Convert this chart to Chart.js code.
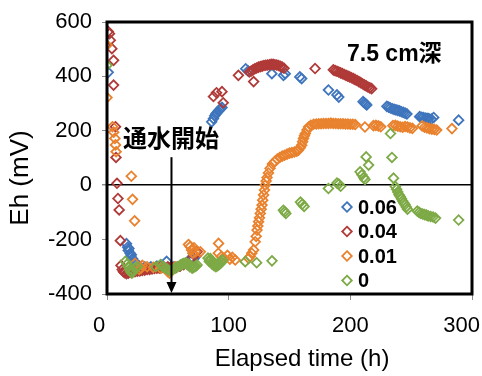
<!DOCTYPE html>
<html>
<head>
<meta charset="utf-8">
<script src="https://cdn.jsdelivr.net/npm/chart.js@4/dist/chart.umd.min.js"></script>
<style>
  html, body { margin: 0; padding: 0; background: #fff; }
  #wrap { width: 482px; height: 376px; }
</style>
</head>
<body>
<div id="wrap"><canvas id="c" width="482" height="376"></canvas></div>
<script>
// series labels (legend order)
const seriesLabels = ["0.06", "0.04", "0.01", "0"];

// 0.06
const t06 = [1, 16, 17, 17.5, 18, 19, 19.5, 20, 21, 22, 26, 31, 36, 41, 45, 49, 55, 60, 66, 69, 71, 73,
  86, 87.5, 88.5, 89.5, 90.5, 91.5, 92.5, 93.5, 94.5, 114, 116, 135.5, 145, 146.5, 158.5, 160,
  182, 189, 190.5, 210.5, 211.5, 212.5, 213.5, 230, 231.5, 233, 234.5, 236, 237.5, 239, 240.5,
  242, 243.5, 245, 246.5, 257, 258.5, 260, 261.5, 263, 264.5, 266.5, 268.5, 289];
const eh06 = [415, -215, -228, -240, -233, -250, -262, -256, -270, -280, -295, -300, -300, -297, -294, -280, -300, -297, -285, -268, -272, -262,
  233, 245, 255, 262, 267, 272, 277, 282, 286, 428, 420, 410, 404, 410, 398, 392,
  350, 332, 324, 307, 303, 299, 295, 290, 287, 284, 281, 279, 277, 275, 273,
  270, 268, 265, 262, 252, 250, 249, 247, 246, 245, 243, 249, 239];

// 0.04
const t04 = [1, 2, 2.7, 4, 5.4, 5.4, 7, 7.4, 8.2, 9, 10, 11,
  11.5, 12.5, 13.5, 14.5, 16, 17.5, 19, 21, 23, 25, 27, 29, 31, 33, 35, 37, 39, 41, 43, 45, 47, 50, 53,
  57, 60, 63, 66, 70, 72, 74, 87.5, 90, 94.5, 95.5, 108, 120.5,
  117, 118.5, 120, 121.5, 123, 124.5, 126, 127.5, 129, 130.5, 132, 133.5, 135, 136.5, 138, 139.5, 141, 142.5, 144, 145.5,
  171, 186, 187.5, 189, 190.5, 192, 193.5, 195, 196.5, 198, 199.5, 201, 202.5, 204, 205.5, 207, 208.5, 210, 211.5, 213, 214.5, 216, 217.5];
const eh04 = [565, 557, 533, 502, 459, 368, 215, 102, 7, -49, -91, -204,
  -295, -310, -318, -322, -325, -323, -320, -318, -318, -316, -315, -313, -312, -310, -310, -308, -306, -305, -305, -303, -302, -300, -300,
  -302, -298, -292, -285, -268, -258, -245, 326, 340, 344, 303, 404, 381,
  416, 420, 424, 428, 431, 434, 436, 438, 440, 441, 442, 443, 444, 444, 443, 442, 440, 437, 434, 430,
  429, 424, 421, 419, 416, 413, 410, 407, 404, 401, 398, 395, 392, 388, 385, 381, 377, 373, 369, 365, 361, 358, 355];

// 0.01
const t01 = [0, 0, 4.5, 5.5, 6.5, 7, 7.5, 20, 21, 22.7, 23, 25, 26.5, 28, 29, 33, 38, 44, 50, 51.5, 53, 56,
  67, 68.4, 69.5, 70.5, 71.5, 72.7, 76.7, 91.7, 91.5, 94, 96.5, 99, 101, 103, 105.4,
  116.4, 117.7, 119, 120.5, 121.8, 122.6, 123.3, 124, 124.6, 125.3, 126, 126.7, 127.4, 128, 128.7, 129.4, 130, 130.8, 131.5,
  132.7, 134, 136, 138, 140, 142, 144, 146, 148, 150, 152, 154, 156, 157.4, 158.8, 160, 160.8, 161.5, 162.3, 163, 164.4, 165.7,
  167.5, 169.8, 172, 174, 176, 178, 180, 182, 184, 186, 188, 190, 192, 194, 196, 198, 200, 202, 204,
  212, 219, 221, 223, 225, 235, 237, 239, 241, 243, 245, 247, 249, 251, 259, 261, 263, 265, 267, 269, 271, 283.5];
const eh01 = [515, 322, 215, 195, 172, 148, 123, 33, -52, -131, -287, -300, -310, -305, -295, -300, -302, -305, -318, -323, -312, -300,
  -218, -226, -238, -250, -230, -245, -245, -214, -250, -262, -270, -258, -272, -265, -275,
  -269, -262, -250, -238, -208, -188, -165, -150, -134, -120, -104, -88, -73, -55, -36, -18, 0, 15, 28,
  45, 62, 78, 88, 96, 102, 107, 110, 114, 118, 120, 122, 125, 129, 138, 147, 160, 172, 182, 190, 203, 214,
  220, 224, 225, 226, 226, 227, 227, 227, 228, 227, 227, 226, 226, 226, 225, 225, 224, 224, 223,
  214, 219, 220, 218, 215, 219, 220, 217, 215, 213, 216, 214, 211, 209, 218, 213, 211, 208, 206, 205, 203, 208];

// 0
const t00 = [0, 15, 16.5, 17.5, 18.5, 19.5, 20.5, 21.5, 23, 25,
  40, 44, 46, 48, 50, 52, 54, 56, 58, 60, 61, 62, 63, 64, 65, 66, 67, 68, 69, 70, 71, 72, 73, 74,
  83, 84, 84.5, 85, 86, 86.5, 87.5, 88, 89, 89.5, 90.5, 91, 92, 92.5, 93.5, 94, 95,
  113.6, 123, 135.6, 145, 146, 147, 159, 160.5, 162,
  182, 189, 190.5, 192, 208, 209.5, 211, 212, 213, 215, 233, 234.2, 235.5,
  237, 238, 239, 240, 241, 242, 243, 244, 245, 246, 247,
  255, 256.5, 258, 259.5, 261, 262.5, 264, 266, 268, 270, 289];
const eh00 = [441, -280, -290, -300, -310, -318, -323, -315, -305, -300,
  -300, -292, -300, -305, -310, -315, -310, -305, -300, -295, -292, -290, -288, -287, -285, -292, -290, -300, -296, -305, -302, -300, -298, -293,
  -268, -280, -275, -270, -282, -290, -288, -296, -293, -300, -290, -296, -286, -290, -280, -284, -275,
  -281, -285, -278, -92, -98, -104, -62, -70, -78,
  -12, 8, 4, -4, 49, 38, 28, 21, 104, 74, 190, 102, 26,
  -5, -15, -25, -35, -42, -50, -58, -65, -72, -80, -88,
  -95, -100, -104, -106, -108, -110, -113, -115, -117, -121, -128];

const xTicks = [0, 100, 200, 300];
const yTicks = [-400, -200, 0, 200, 400, 600];

const colors = ["#3F75BC", "#B03A38", "#E9822E", "#7DAA46"];
const FONT = "'Liberation Sans', Arial, sans-serif";
const JP = "'Noto Sans CJK JP', 'Liberation Sans', sans-serif";
const MARK = 4.8;

const pts = (xs, ys) => xs.map((x, i) => ({ x, y: ys[i] }));
const seriesData = [pts(t06, eh06), pts(t04, eh04), pts(t01, eh01), pts(t00, eh00)];

const datasets = seriesData.map((data, i) => ({
  label: seriesLabels[i],
  data,
  pointStyle: "rectRot",
  pointRadius: MARK,
  pointBorderWidth: 1.8,
  pointBorderColor: colors[i],
  pointBackgroundColor: "rgba(255,255,255,0)",
  showLine: false,
  order: 3 - i, // later series on top, like the original
}));

// frame, arrow, texts, legend, axis labels
const decorations = {
  id: "decorations",
  afterDatasetsDraw(chart) {
    const { ctx, chartArea: a, scales } = chart;
    ctx.save();
    // thick plot frame
    ctx.strokeStyle = "#000";
    ctx.lineWidth = 3;
    ctx.strokeRect(a.left, a.top, a.right - a.left, a.bottom - a.top);

    // arrow for the start of water flow
    const ax = scales.x.getPixelForValue(53);
    const ay = scales.y.getPixelForValue(103);
    ctx.lineWidth = 2;
    ctx.beginPath();
    ctx.moveTo(ax, ay);
    ctx.lineTo(ax, a.bottom - 10);
    ctx.stroke();
    ctx.fillStyle = "#000";
    ctx.beginPath();
    ctx.moveTo(ax - 5, a.bottom - 12);
    ctx.lineTo(ax + 5, a.bottom - 12);
    ctx.lineTo(ax, a.bottom - 1);
    ctx.closePath();
    ctx.fill();

    ctx.textBaseline = "alphabetic";
    ctx.textAlign = "left";
    ctx.font = "bold 24px " + JP;
    ctx.fillText("通水開始", 123, 147);
    ctx.font = "bold 23px " + FONT;
    ctx.fillText("7.5 cm", 347, 61);
    const w = ctx.measureText("7.5 cm").width;
    ctx.font = "bold 23px " + JP;
    ctx.fillText("深", 347 + w, 61);
    ctx.restore();
  },
  afterDraw(chart) {
    const { ctx, scales } = chart;
    ctx.save();
    // legend
    chart.data.datasets.forEach((ds, i) => {
      const y = 207 + i * 24.5;
      const x = 347;
      ctx.strokeStyle = ds.pointBorderColor;
      ctx.lineWidth = 1.8;
      ctx.beginPath();
      ctx.moveTo(x, y - MARK);
      ctx.lineTo(x + MARK, y);
      ctx.lineTo(x, y + MARK);
      ctx.lineTo(x - MARK, y);
      ctx.closePath();
      ctx.stroke();
      ctx.fillStyle = "#000";
      ctx.font = "bold 20px " + FONT;
      ctx.textAlign = "left";
      ctx.textBaseline = "middle";
      ctx.fillText(ds.label, 358, y + 1);
    });

    // x tick labels, nudged inward at the ends like the original
    ctx.font = "22px " + FONT;
    ctx.fillStyle = "#000";
    ctx.textAlign = "center";
    ctx.textBaseline = "alphabetic";
    scales.x.ticks.forEach((t, i) => {
      const label = String(t.value);
      const half = ctx.measureText(label).width / 2;
      let cx = scales.x.getPixelForValue(t.value);
      if (i === 0) cx -= 8;
      cx = Math.min(cx, chart.width - half - 2);
      ctx.fillText(label, cx, 332);
    });

    // axis titles
    ctx.font = "24px " + FONT;
    ctx.fillText("Elapsed time (h)", 302, 366);
    ctx.translate(28, 178);
    ctx.rotate(-Math.PI / 2);
    ctx.font = "26px " + FONT;
    ctx.fillText("Eh (mV)", 0, 0);
    ctx.restore();
  },
};

new Chart(document.getElementById("c"), {
  type: "scatter",
  data: { datasets },
  options: {
    responsive: false,
    animation: false,
    layout: { padding: { top: 22, right: 10, left: 0, bottom: 0 } },
    plugins: { legend: { display: false }, tooltip: { enabled: false } },
    scales: {
      x: {
        type: "linear",
        min: 0,
        max: 300,
        afterBuildTicks: (s) => { s.ticks = xTicks.map((v) => ({ value: v })); },
        ticks: { color: "rgba(0,0,0,0)", font: { size: 22, family: FONT }, padding: 8 },
        grid: { drawOnChartArea: false, tickLength: 6, tickColor: "#8c8c8c", lineWidth: 1 },
        border: { display: false },
        afterFit(s) { s.height = 82; s.paddingLeft = 0; s.paddingRight = 0; },
      },
      y: {
        type: "linear",
        min: -400,
        max: 600,
        afterBuildTicks: (s) => { s.ticks = yTicks.map((v) => ({ value: v })); },
        ticks: { color: "#000", font: { size: 22, family: FONT }, padding: 10 },
        grid: {
          color: (c) => (c.tick && c.tick.value === 0 ? "#000" : "rgba(0,0,0,0)"),
          lineWidth: (c) => (c.tick && c.tick.value === 0 ? 1.5 : 1),
          tickColor: "#8c8c8c",
          tickLength: 5,
        },
        border: { display: false },
        afterFit(s) { s.width = 107; s.paddingTop = 0; s.paddingBottom = 0; },
      },
    },
  },
  plugins: [decorations],
});
</script>
</body>
</html>
